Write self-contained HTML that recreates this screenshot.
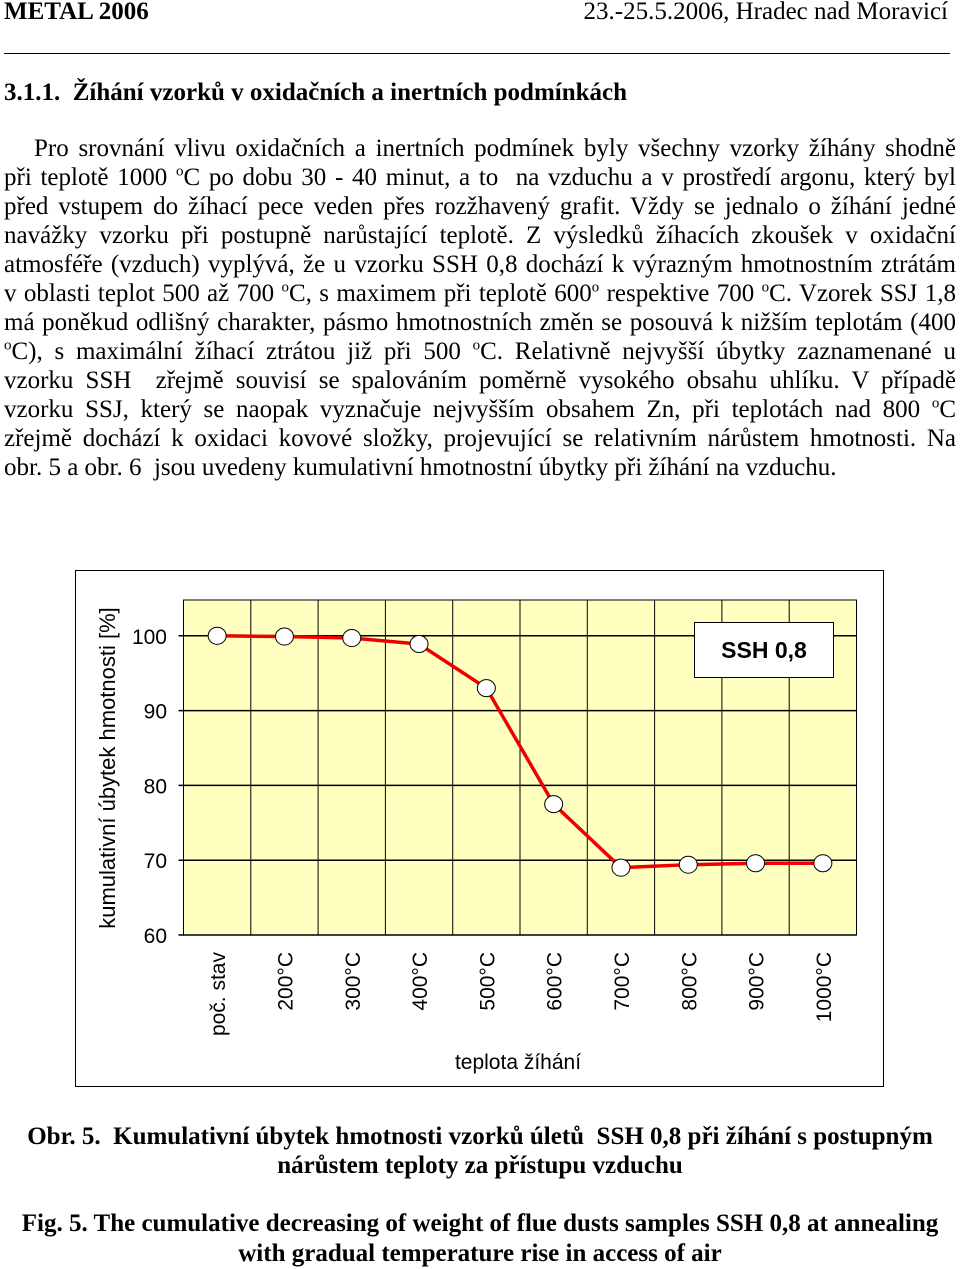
<!DOCTYPE html>
<html><head><meta charset="utf-8"><style>
body{margin:0;width:960px;height:1267px;background:#fff;position:relative;overflow:hidden;font-family:"Liberation Serif",serif;color:#000}
.a{position:absolute;white-space:nowrap}
.ln{position:absolute;left:4px;width:952px;font-size:25px;line-height:29px;text-align:justify;text-align-last:justify;white-space:nowrap}
sup{font-size:15px;line-height:0}
.cap{position:absolute;left:0;width:960px;text-align:center;font-weight:bold;font-size:25px}
</style></head><body>
<div class="a" style="left:4px;top:-2px;font-size:25px;font-weight:bold">METAL 2006</div>
<div class="a" style="right:12px;top:-2px;font-size:25px">23.-25.5.2006, Hradec nad Moravicí</div>
<div class="a" style="left:4px;top:53px;width:946px;height:1px;background:#000"></div>
<div class="a" style="left:4px;top:79px;font-size:25px;font-weight:bold">3.1.1.&nbsp; Žíhání vzorků v oxidačních a inertních podmínkách</div>
<div>
<div class="ln" style="top:134px;left:34px;width:922px">Pro srovnání vlivu oxidačních a inertních podmínek byly všechny vzorky žíhány shodně</div>
<div class="ln" style="top:163px">při teplotě 1000 <sup>o</sup>C po dobu 30 - 40 minut, a to&nbsp; na vzduchu a v prostředí argonu, který byl</div>
<div class="ln" style="top:192px">před vstupem do žíhací pece veden přes rozžhavený grafit. Vždy se jednalo o žíhání jedné</div>
<div class="ln" style="top:221px">navážky vzorku při postupně narůstající teplotě. Z výsledků žíhacích zkoušek v oxidační</div>
<div class="ln" style="top:250px">atmosféře (vzduch) vyplývá, že u vzorku SSH 0,8 dochází k výrazným hmotnostním ztrátám</div>
<div class="ln" style="top:279px">v oblasti teplot 500 až 700 <sup>o</sup>C, s maximem při teplotě 600<sup>o</sup> respektive 700 <sup>o</sup>C. Vzorek SSJ 1,8</div>
<div class="ln" style="top:308px">má poněkud odlišný charakter, pásmo hmotnostních změn se posouvá k nižším teplotám (400</div>
<div class="ln" style="top:337px"><sup>o</sup>C), s maximální žíhací ztrátou již při 500 <sup>o</sup>C. Relativně nejvyšší úbytky zaznamenané u</div>
<div class="ln" style="top:366px">vzorku SSH&nbsp; zřejmě souvisí se spalováním poměrně vysokého obsahu uhlíku. V případě</div>
<div class="ln" style="top:395px">vzorku SSJ, který se naopak vyznačuje nejvyšším obsahem Zn, při teplotách nad 800 <sup>o</sup>C</div>
<div class="ln" style="top:424px">zřejmě dochází k oxidaci kovové složky, projevující se relativním nárůstem hmotnosti. Na</div>
<div class="ln" style="top:453px;text-align-last:left">obr. 5 a obr. 6&nbsp; jsou uvedeny kumulativní hmotnostní úbytky při žíhání na vzduchu.</div>
</div>
<svg class="a" style="left:0;top:0" width="960" height="1267">
<rect x="75.5" y="570.5" width="808" height="516" fill="#fff" stroke="#000"/>
<rect x="183.5" y="600" width="673" height="335" fill="#ffffc0" stroke="#000"/>
<g id="grid"></g>
<g id="ylab" font-family="Liberation Sans, sans-serif" font-size="21" text-anchor="end"></g>
<g id="xlab" font-family="Liberation Sans, sans-serif" font-size="21"></g>
<polyline id="line" fill="none" stroke="#ee0000" stroke-width="3.5"/>
<g id="pts"></g>
<text x="115" y="768" transform="rotate(-90 115 768)" text-anchor="middle" font-family="Liberation Sans, sans-serif" font-size="22">kumulativní úbytek hmotnosti [%]</text>
<text x="518" y="1069" text-anchor="middle" font-family="Liberation Sans, sans-serif" font-size="21">teplota žíhání</text>
<rect x="694.5" y="622.5" width="139" height="55" fill="#fff" stroke="#000"/>
<text x="764" y="658" text-anchor="middle" font-family="Liberation Sans, sans-serif" font-weight="bold" font-size="23">SSH 0,8</text>
</svg>
<div class="cap" style="top:1122px;line-height:29px">Obr. 5.&nbsp; Kumulativní úbytek hmotnosti vzorků úletů&nbsp; SSH 0,8 při žíhání s postupným<br>nárůstem teploty za přístupu vzduchu</div>
<div class="cap" style="top:1209px;line-height:30px">Fig. 5. The cumulative decreasing of weight of flue dusts samples SSH 0,8 at annealing<br>with gradual temperature rise in access of air</div>
<script>
const categories=["poč. stav","200°C","300°C","400°C","500°C","600°C","700°C","800°C","900°C","1000°C"];
const values=[100,99.9,99.7,98.9,93,77.5,69,69.4,69.6,69.6];
const yTicks=[60,70,80,90,100];
const NS="http://www.w3.org/2000/svg";
const x0=183.5,x1=856.5,yBase=935,pxPer=7.48;
const bw=(x1-x0)/categories.length;
const X=i=>x0+bw*(i+0.5);
const Y=v=>yBase-(v-60)*pxPer;
const grid=document.getElementById('grid');
for(let i=1;i<categories.length;i++){const l=document.createElementNS(NS,'line');


l.setAttribute('x1',x0+bw*i);l.setAttribute('x2',x0+bw*i);l.setAttribute('y1',600);l.setAttribute('y2',935);l.setAttribute('stroke','#000');grid.appendChild(l);}
yTicks.forEach(t=>{const l=document.createElementNS(NS,'line');


l.setAttribute('x1',x0-5);l.setAttribute('x2',x1);l.setAttribute('y1',Y(t));l.setAttribute('y2',Y(t));l.setAttribute('stroke','#000');l.setAttribute('stroke-width','1.5');grid.appendChild(l);
const tx=document.createElementNS(NS,'text');


tx.setAttribute('x',167);tx.setAttribute('y',Y(t)+8);tx.textContent=t;document.getElementById('ylab').appendChild(tx);});
categories.forEach((c,i)=>{const tx=document.createElementNS(NS,'text');


const x=X(i)+8,y=952;tx.setAttribute('x',x);tx.setAttribute('y',y);tx.setAttribute('text-anchor','end');tx.setAttribute('transform','rotate(-90 '+x+' '+y+')');tx.textContent=c;document.getElementById('xlab').appendChild(tx);});
document.getElementById('line').setAttribute('points',values.map((v,i)=>X(i)+','+Y(v)).join(' '));
values.forEach((v,i)=>{const c=document.createElementNS(NS,'ellipse');


c.setAttribute('cx',X(i));c.setAttribute('cy',Y(v));c.setAttribute('rx',9);c.setAttribute('ry',8.5);c.setAttribute('fill','#fff');c.setAttribute('stroke','#000');document.getElementById('pts').appendChild(c);});
</script>
</body></html>
